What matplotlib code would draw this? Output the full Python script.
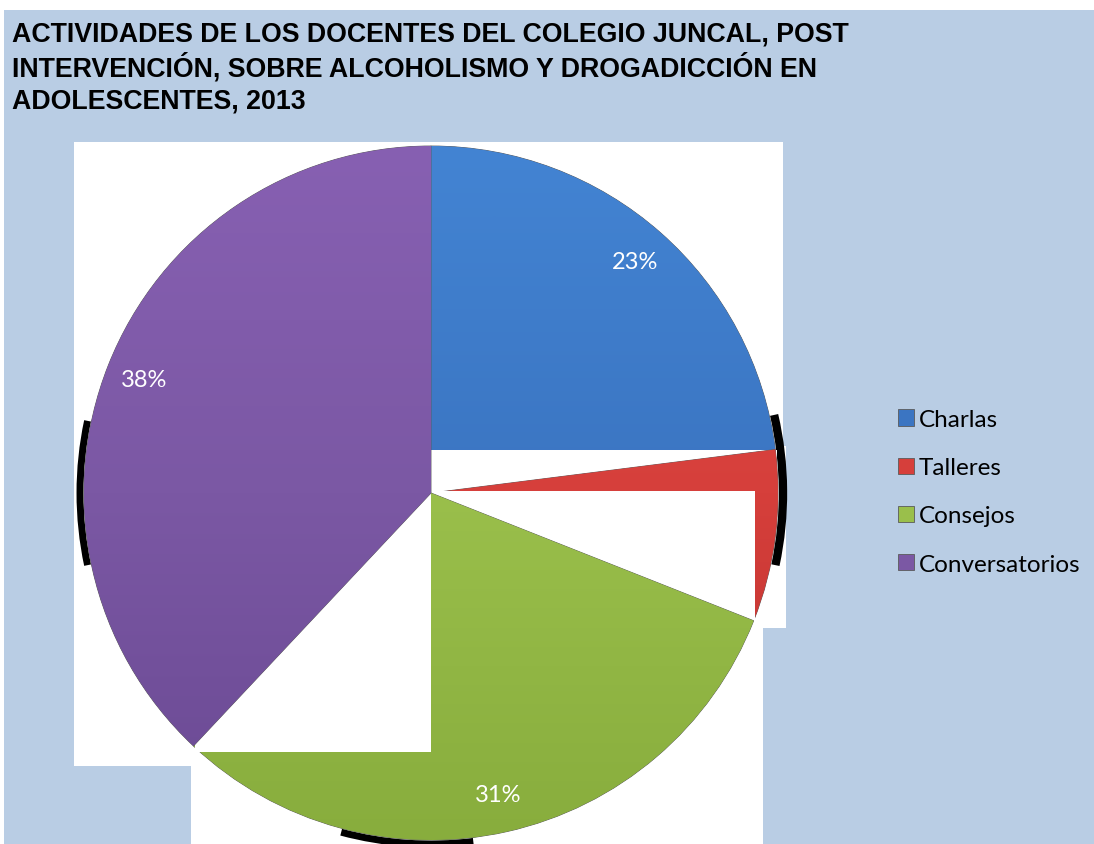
import numpy as np
import matplotlib
matplotlib.use("Agg")
import matplotlib.pyplot as plt
from matplotlib.patches import Rectangle, Arc
from matplotlib.colors import LinearSegmentedColormap

W, H = 1094, 845

title = ("ACTIVIDADES DE LOS DOCENTES DEL COLEGIO JUNCAL, POST\n"
         "INTERVENCIÓN, SOBRE ALCOHOLISMO Y DROGADICCIÓN EN\n"
         "ADOLESCENTES, 2013")
categorias = ["Charlas", "Talleres", "Consejos", "Conversatorios"]
porcentajes = [23, 8, 31, 38]
colores = ["#3b75c2", "#d63f3b", "#9abf4b", "#7b58a4"]
claros = ["#4384d3", "#e5504b", "#a6ca57", "#8760b2"]
oscuros = ["#3464a8", "#b8302d", "#88ad3d", "#6a4993"]

BG = "#b9cde4"


def Y(y):
    # image pixel row -> data y
    return H - y


fig = plt.figure(figsize=(W / 100, H / 100), dpi=100)
fig.patch.set_facecolor("white")
ax = fig.add_axes([0, 0, 1, 1])

# panel + white plot area pieces
ax.add_patch(Rectangle((4, 0), W - 4, Y(11), facecolor=BG, edgecolor="none", zorder=0))
for x0, y0, x1, y1 in [(74, 143, 783, 451), (74, 447, 431, 767),
                       (431, 447, 786, 629), (191, 494, 763, 845)]:
    ax.add_patch(Rectangle((x0, Y(y1)), x1 - x0, y1 - y0, facecolor="white",
                           edgecolor="none", zorder=0.2))

cx, cy, r = 431, Y(494), 347

# dark shadow bits around the pie
ax.add_patch(Arc((cx + 5, cy), 2 * r, 2 * r, theta1=-12, theta2=13, color="black", lw=6, zorder=0.5))
ax.add_patch(Arc((cx - 4, cy), 2 * r, 2 * r, theta1=168, theta2=192, color="black", lw=5, zorder=0.5))
ax.add_patch(Arc((cx, cy - 4), 2 * r, 2 * r, theta1=255, theta2=277, color="black", lw=5, zorder=0.5))

wedges, texts, autotexts = ax.pie(
    porcentajes, colors=colores, startangle=90, counterclock=False,
    center=(cx, cy), radius=r, autopct="%1.0f%%", pctdistance=0.89,
    wedgeprops=dict(edgecolor="#5a5a5a", linewidth=0.6))

z_wedge = [1, 1.5, 3, 5]
grad = np.linspace(0, 1, 256).reshape(-1, 1)
for i, w in enumerate(wedges):
    w.set_zorder(z_wedge[i])
    cmap = LinearSegmentedColormap.from_list("g%d" % i, [oscuros[i], colores[i], claros[i]])
    im = ax.imshow(grad, cmap=cmap, extent=(cx - r, cx + r, cy - r, cy + r),
                   origin="lower", aspect="auto", zorder=z_wedge[i] + 0.1)
    im.set_clip_path(w)
    t = autotexts[i]
    t.set_color("white")
    t.set_fontfamily("Lato")
    t.set_fontsize(17)
    t.set_zorder(10)
autotexts[1].set_zorder(1.7)

# white cut-outs covering parts of the pie
ax.add_patch(Rectangle((431, Y(500)), 346, 49, facecolor="white", edgecolor="none", zorder=1.2))
ax.add_patch(Rectangle((431, Y(625)), 324, 133, facecolor="white", edgecolor="none", zorder=2))
ax.add_patch(Rectangle((195, Y(753)), 236, 259, facecolor="white", edgecolor="none", zorder=4))

ax.legend(wedges, categorias, loc="upper left", bbox_to_anchor=(898, Y(410)),
          bbox_transform=ax.transData, frameon=False,
          prop=dict(family="Lato", size=17.5), handlelength=0.65, handleheight=0.65,
          handletextpad=0.2, labelspacing=1.12, borderpad=0, borderaxespad=0)

ax.text(12, Y(21), title, ha="left", va="top", fontsize=19.3, fontweight="bold",
        family="Liberation Sans", linespacing=1.27, zorder=10)

ax.set_xlim(0, W)
ax.set_ylim(0, H)
ax.set_aspect("auto")
ax.axis("off")

fig.savefig("out.png", dpi=100, facecolor=fig.get_facecolor())
